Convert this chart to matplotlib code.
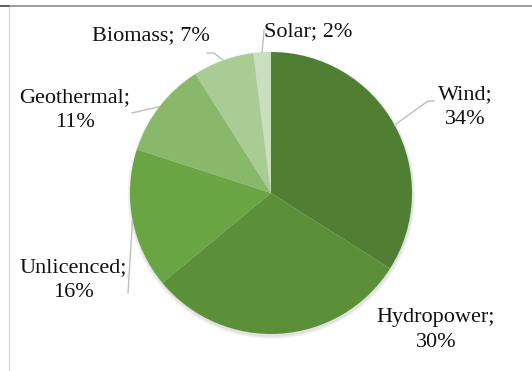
import numpy as np
import matplotlib
matplotlib.use("Agg")
from matplotlib import pyplot as plt
from matplotlib.patches import Circle

# energy sources, shares in percent (clockwise from 12 o'clock)
sources = ["Wind", "Hydropower", "Unlicenced", "Geothermal", "Biomass", "Solar"]
shares = [34, 30, 16, 11, 7, 2]
colors = ["#507e32", "#5b9039", "#69a542", "#88b96a", "#a9cc94", "#c9dfbd"]

W, H = 532, 371
plt.rcParams["font.family"] = ["Liberation Serif", "DejaVu Serif"]

fig = plt.figure(figsize=(W / 100, H / 100), dpi=100)
ax = fig.add_axes([0, 0, 1, 1])

cx, cy, r = 271, H - 193, 141

# soft shadow below the pie
for k in range(1, 6):
    ax.add_patch(Circle((cx + 0.5, cy - 2), r + k * 0.6, color="k", alpha=0.025, lw=0, zorder=1))

wedges, _ = ax.pie(shares, colors=colors, startangle=90, counterclock=False,
                   center=(cx, cy), radius=r, frame=True,
                   wedgeprops=dict(linewidth=0), labels=None)
for w in wedges:
    w.set_zorder(2)
ax.set_xlim(0, W)
ax.set_ylim(0, H)
ax.set_aspect("equal")
ax.axis("off")

# label text centre (pixels from top-left), two-line or single-line text
label_pos = {
    "Wind": (465, 107, True),
    "Hydropower": (436, 330, True),
    "Unlicenced": (73, 280, True),
    "Geothermal": (75, 110, True),
    "Biomass": (151, 36, False),
    "Solar": (308, 32, False),
}
# leader end points (pixels from top-left), None = no leader
leader_end = {
    "Wind": [(428, 101), (434, 101)],
    "Hydropower": None,
    "Unlicenced": [(128, 293)],
    "Geothermal": [(132, 113)],
    "Biomass": [(214, 53), (207, 53)],
    "Solar": [(264, 30)],
}

cum = np.cumsum([0] + shares)
for i, name in enumerate(sources):
    x, y, two = label_pos[name]
    txt = f"{name};\n{shares[i]}%" if two else f"{name}; {shares[i]}%"
    ax.text(x, H - y, txt, ha="center", va="center", fontsize=16,
            linespacing=1.4, color="#111111", zorder=5)
    pts = leader_end[name]
    if pts:
        mid = np.deg2rad(90 - 3.6 * (cum[i] + cum[i + 1]) / 2)
        sx, sy = cx + r * np.cos(mid), cy + r * np.sin(mid)
        xs = [sx] + [p[0] for p in pts]
        ys = [sy] + [H - p[1] for p in pts]
        ax.plot(xs, ys, color="#bfbfbf", lw=1, zorder=3)

# frame lines of the chart area
ax.plot([0, W], [H - 6, H - 6], color="#8c8c8c", lw=1.2, zorder=6)
ax.plot([0, 9], [H - 6, H - 6], color="#555555", lw=1.2, zorder=6)
ax.plot([9, 9], [0, H - 7], color="#d9d9d9", lw=1, zorder=6)

fig.savefig("out.png", dpi=100)
